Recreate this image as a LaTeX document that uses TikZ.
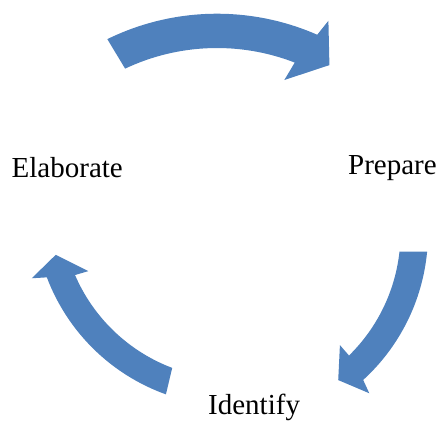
\documentclass[tikz,border=0pt]{standalone}
\usepackage{fontspec}
\setmainfont{Liberation Serif}
\definecolor{cycleblue}{HTML}{4F81BD}
\begin{document}
\begin{tikzpicture}[x=1pt,y=-1pt,
  cyclearrow/.style={fill=cycleblue,draw=none},
  steplabel/.style={font=\fontsize{29}{34}\selectfont,inner sep=0pt,anchor=base west}]
\useasboundingbox (0,0) rectangle (441,421);

% upper arrow, turning clockwise towards "Prepare"
\begin{scope}[shift={(217,263)}]
  \fill[cyclearrow] (244.7:215) -- (243.9:249.3)
    arc[start angle=243.9,end angle=293.7,radius=249.3]
    -- (294.7:266.6) -- (299.6:227.6) -- (290.2:195) -- (291.2:215)
    arc[start angle=291.2,end angle=244.7,radius=215] -- cycle;
\end{scope}

% right arrow, from "Prepare" down to "Identify"
\begin{scope}[shift={(229,233)}]
  \fill[cyclearrow] (6.26:171.5) -- (5.39:199)
    arc[start angle=5.39,end angle=47.6,radius=199]
    -- (48.8:213) -- (53.4:183.2) -- (45.3:157.7) -- (45.6:171.5)
    arc[start angle=45.6,end angle=6.26,radius=171.5] -- cycle;
\end{scope}

% left arrow, from "Identify" up to "Elaborate"
\begin{scope}[shift={(233,207)}]
  \fill[cyclearrow] (110.7:172) -- (109.7:199)
    arc[start angle=109.7,end angle=159.3,radius=199]
    -- (160.5:213.5) -- (164.9:183.6) -- (156.1:158.2) -- (156.7:172)
    arc[start angle=156.7,end angle=110.7,radius=172] -- cycle;
\end{scope}

\node[steplabel] (elaborate) at (11.5,177.5) {Elaborate};
\node[steplabel] (prepare) at (348,174) {Prepare};
\node[steplabel] (identify) at (208,414.5) {Identify};
\end{tikzpicture}
\end{document}
